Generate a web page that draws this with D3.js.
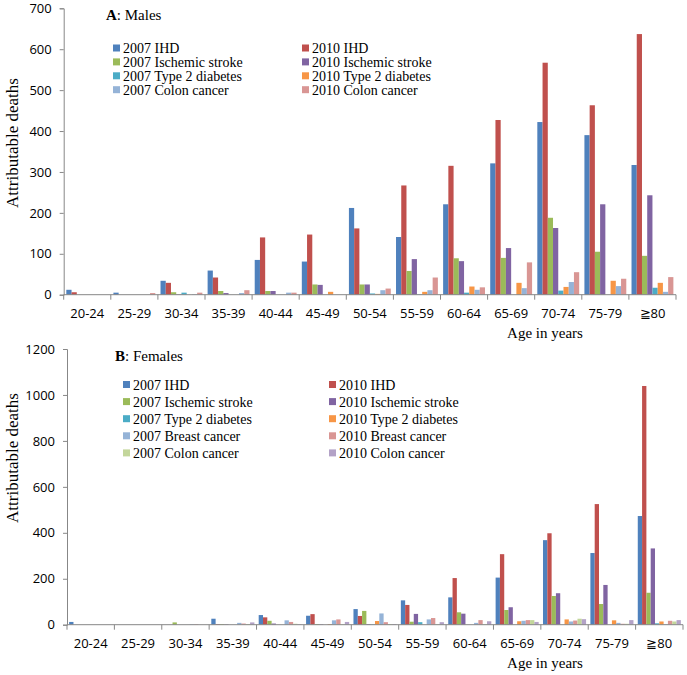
<!DOCTYPE html>
<html>
<head>
<meta charset="utf-8">
<script src="https://cdn.jsdelivr.net/npm/d3@7"></script>
<style>
  html, body { margin: 0; padding: 0; background: #fff; }
  svg { display: block; }
</style>
</head>
<body>
<svg id="chart" width="687" height="675"></svg>
<script>
// ---------- DATA ----------
const ageGroups = ["20-24","25-29","30-34","35-39","40-44","45-49","50-54","55-59","60-64","65-69","70-74","75-79","\u226780"];

// Panel A: Males
const maleSeries = ["2007 IHD","2010 IHD","2007 Ischemic stroke","2010 Ischemic stroke","2007 Type 2 diabetes","2010 Type 2 diabetes","2007 Colon cancer","2010 Colon cancer"];
const maleIHD2007     = [12, 5, 34, 59, 85, 81, 212, 141, 221, 321, 422, 390, 317];
const maleIHD2010     = [6, 0, 29, 42, 140, 147, 162, 267, 315, 427, 567, 463, 637];
const maleStroke2007  = [0, 0, 6, 9, 9, 25, 25, 58, 89, 90, 188, 105, 95];
const maleStroke2010  = [0, 0, 1, 4, 9, 24, 25, 87, 82, 114, 163, 221, 243];
const maleDiab2007    = [0, 0, 5, 0, 0, 0, 3, 1, 5, 0, 10, 0, 17];
const maleDiab2010    = [0, 0, 0, 0, 0, 7, 2, 7, 20, 29, 19, 34, 29];
const maleColon2007   = [0, 0, 1, 4, 5, 0, 11, 11, 12, 16, 31, 21, 7];
const maleColon2010   = [0, 4, 5, 11, 5, 0, 15, 42, 18, 79, 55, 39, 43];
const maleTicks = [0, 100, 200, 300, 400, 500, 600, 700];

// Panel B: Females
const femaleSeries = ["2007 IHD","2010 IHD","2007 Ischemic stroke","2010 Ischemic stroke","2007 Type 2 diabetes","2010 Type 2 diabetes","2007 Breast cancer","2010 Breast cancer","2007 Colon cancer","2010 Colon cancer"];
const femaleIHD2007    = [12, 0, 0, 26, 42, 39, 68, 106, 119, 205, 368, 312, 473];
const femaleIHD2010    = [0, 0, 0, 3, 32, 46, 38, 86, 203, 307, 398, 525, 1039];
const femaleStroke2007 = [0, 0, 10, 3, 17, 3, 60, 13, 54, 64, 125, 90, 139];
const femaleStroke2010 = [0, 0, 0, 2, 5, 2, 3, 47, 48, 76, 137, 173, 332];
const femaleDiab2007   = [0, 0, 0, 0, 0, 0, 2, 11, 0, 0, 0, 0, 6];
const femaleDiab2010   = [0, 0, 0, 0, 0, 3, 16, 0, 0, 15, 23, 19, 14];
const femaleBreast2007 = [0, 0, 2, 8, 19, 19, 49, 23, 8, 17, 14, 8, 2];
const femaleBreast2010 = [0, 0, 2, 5, 12, 23, 11, 29, 20, 20, 18, 4, 17];
const femaleColon2007  = [0, 0, 0, 3, 4, 2, 3, 2, 2, 20, 26, 4, 14];
const femaleColon2010  = [0, 0, 0, 10, 2, 12, 3, 11, 15, 12, 24, 20, 20];
const femaleTicks = [0, 200, 400, 600, 800, 1000, 1200];

const maleColors = ["#4F81BD","#C0504D","#9BBB59","#8064A2","#4BACC6","#F79646","#95B3D7","#D99694"];
const femaleColors = ["#4F81BD","#C0504D","#9BBB59","#8064A2","#4BACC6","#F79646","#95B3D7","#D99694","#C3D69B","#B3A2C7"];

// ---------- DRAW ----------
const svg = d3.select("#chart");
const serif = "'Liberation Serif', 'Times New Roman', serif";
const sans = "'Open Sans', 'Noto Sans', sans-serif";
const axisColor = "#878787";

function drawPanel(cfg) {
  const g = svg.append("g");
  const x = d3.scaleBand().domain(ageGroups).range([cfg.x0, cfg.x1]).paddingInner(0).paddingOuter(0);
  const xs = d3.scaleBand().domain(cfg.series).range([0, x.bandwidth()]).paddingInner(0).paddingOuter(0.5);
  const y = d3.scaleLinear().domain([0, cfg.yMax]).range([cfg.y0, cfg.y1]);

  // bars
  cfg.series.forEach((s, si) => {
    g.append("g").selectAll("rect")
      .data(cfg.values[si].map((v, i) => ({ age: ageGroups[i], v })))
      .join("rect")
      .attr("x", d => x(d.age) + xs(s))
      .attr("y", d => y(d.v))
      .attr("width", xs.bandwidth())
      .attr("height", d => y(0) - y(d.v))
      .attr("fill", cfg.colors[si]);
  });

  // y axis
  const yAxis = d3.axisLeft(y).tickValues(cfg.ticks).tickSize(4).tickPadding(8).tickFormat(d3.format("d"));
  const ya = g.append("g").attr("transform", `translate(${cfg.x0},0)`).call(yAxis);
  ya.select(".domain").attr("stroke", axisColor);
  ya.selectAll(".tick line").attr("stroke", axisColor);
  ya.selectAll(".tick text").attr("font-family", sans).attr("font-size", 13).attr("fill", "#000");

  // x axis: ticks at category boundaries
  const xa = g.append("g").attr("transform", `translate(0,${cfg.y0})`);
  xa.append("line").attr("x1", cfg.x0).attr("x2", cfg.x1).attr("stroke", axisColor);
  const bounds = ageGroups.map(a => x(a)).concat([cfg.x1]);
  xa.selectAll("line.tk").data(bounds).join("line").attr("class", "tk")
    .attr("x1", d => d).attr("x2", d => d).attr("y1", 0).attr("y2", 5).attr("stroke", axisColor);
  xa.selectAll("text").data(ageGroups).join("text")
    .attr("x", d => x(d) + x.bandwidth() / 2)
    .attr("y", 23)
    .attr("text-anchor", "middle")
    .attr("font-family", sans).attr("font-size", 13).attr("fill", "#000")
    .text(d => d);

  // axis titles
  g.append("text")
    .attr("transform", `translate(${cfg.yLabelX},${cfg.yLabelY}) rotate(-90)`)
    .attr("text-anchor", "middle")
    .attr("font-family", serif).attr("font-size", 17)
    .text("Attributable deaths");
  g.append("text")
    .attr("x", 545).attr("y", cfg.y0 + 43)
    .attr("text-anchor", "middle")
    .attr("font-family", serif).attr("font-size", 15)
    .text("Age in years");

  // panel title
  const t = g.append("text").attr("x", cfg.titleX).attr("y", cfg.titleY)
    .attr("font-family", serif).attr("font-size", 15);
  t.append("tspan").attr("font-weight", "bold").text(cfg.letter);
  t.append("tspan").text(": " + cfg.title);

  // legend
  const lg = g.append("g");
  cfg.series.forEach((s, i) => {
    const col = i % 2, row = Math.floor(i / 2);
    const lx = cfg.legX[col], ly = cfg.legY + row * cfg.legDy;
    lg.append("rect").attr("x", lx).attr("y", ly - 4).attr("width", 7).attr("height", 7).attr("fill", cfg.colors[i]);
    lg.append("text").attr("x", lx + 10).attr("y", ly + 4.5)
      .attr("font-family", serif).attr("font-size", 14).text(s);
  });
}

drawPanel({
  series: maleSeries, colors: maleColors,
  values: [maleIHD2007, maleIHD2010, maleStroke2007, maleStroke2010, maleDiab2007, maleDiab2010, maleColon2007, maleColon2010],
  x0: 63.7, x1: 676, y0: 294.7, y1: 8.3, yMax: 700, ticks: maleTicks,
  yLabelX: 18, yLabelY: 143,
  titleX: 106, titleY: 20, letter: "A", title: "Males",
  legX: [113, 302], legY: 48.5, legDy: 13.9
});

drawPanel({
  series: femaleSeries, colors: femaleColors,
  values: [femaleIHD2007, femaleIHD2010, femaleStroke2007, femaleStroke2010, femaleDiab2007, femaleDiab2010, femaleBreast2007, femaleBreast2010, femaleColon2007, femaleColon2010],
  x0: 67, x1: 683, y0: 624.7, y1: 349, yMax: 1200, ticks: femaleTicks,
  yLabelX: 18, yLabelY: 458,
  titleX: 115, titleY: 361, letter: "B", title: "Females",
  legX: [123, 329], legY: 385, legDy: 17.1
});
</script>
</body>
</html>
